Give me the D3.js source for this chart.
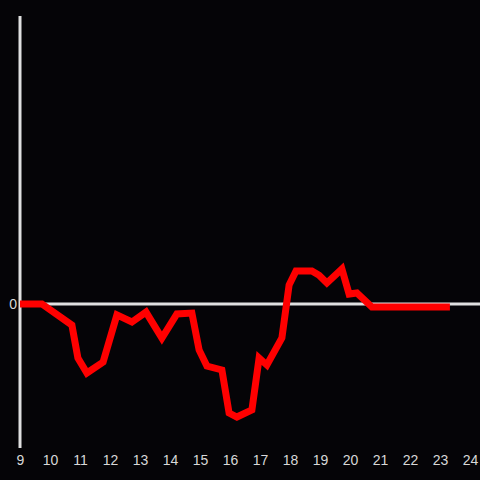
<!DOCTYPE html>
<html>
<head>
<meta charset="UTF-8">
<script src="https://cdn.jsdelivr.net/npm/d3@7"></script>
<style>
  body { margin: 0; background: #050407; }
  svg { display: block; }
  .tick text { font-family: "Liberation Sans", Arial, sans-serif; font-size: 14px; fill: #d8d8d8; }
</style>
</head>
<body>
<script>
    // hours of day, and the value at each
    var hours = [9, 9.73, 10.73, 10.93, 11.23, 11.77, 12.23, 12.73, 13.2, 13.73, 14.23, 14.73, 14.97,
        15.23, 15.73, 15.97, 16.23, 16.73, 16.97, 17.23, 17.73, 17.97, 18.2, 18.73, 18.97, 19.23,
        19.73, 19.97, 20.23, 20.73, 23.33];
    var values = [0, 0, -0.146, -0.375, -0.479, -0.403, -0.076, -0.125, -0.056, -0.236, -0.069, -0.063, -0.319,
        -0.431, -0.458, -0.757, -0.785, -0.736, -0.375, -0.424, -0.236, 0.132, 0.229, 0.229, 0.2, 0.146,
        0.243, 0.069, 0.076, -0.021, -0.021];
    var xTicks = [9, 10, 11, 12, 13, 14, 15, 16, 17, 18, 19, 20, 21, 22, 23, 24];
    var yTicks = [0];

    var width = 480, height = 480;

    var x = d3.scaleLinear().domain([9, 24]).range([20, 470]);
    var y = d3.scaleLinear().domain([-1, 2]).range([448, 16]);

    var svg = d3.select("body").append("svg")
        .attr("width", width)
        .attr("height", height);

    svg.append("rect").attr("width", width).attr("height", height).attr("fill", "#050407");

    // y axis line
    svg.append("line")
        .attr("x1", x(9)).attr("x2", x(9))
        .attr("y1", y(2)).attr("y2", y(-1))
        .attr("stroke", "#e0e0e0").attr("stroke-width", 3);

    // zero line
    svg.append("line")
        .attr("x1", x(9)).attr("x2", width)
        .attr("y1", y(0)).attr("y2", y(0))
        .attr("stroke", "#e0e0e0").attr("stroke-width", 3);

    var xAxis = svg.append("g")
        .attr("transform", "translate(0," + 449 + ")")
        .call(d3.axisBottom(x).tickValues(xTicks).tickSize(0).tickPadding(6).tickFormat(d3.format("d")));
    xAxis.select(".domain").remove();

    var yAxis = svg.append("g")
        .attr("transform", "translate(" + 20 + ",0)")
        .call(d3.axisLeft(y).tickValues(yTicks).tickSize(0).tickPadding(3).tickFormat(d3.format("d")));
    yAxis.select(".domain").remove();

    var data = hours.map(function(h, i) { return [h, values[i]]; });

    svg.append("path")
        .datum(data)
        .attr("fill", "none")
        .attr("stroke", "#ff0000")
        .attr("stroke-width", 7)
        .attr("d", d3.line().x(function(d) { return x(d[0]); }).y(function(d) { return y(d[1]); }));
</script>
</body>
</html>
